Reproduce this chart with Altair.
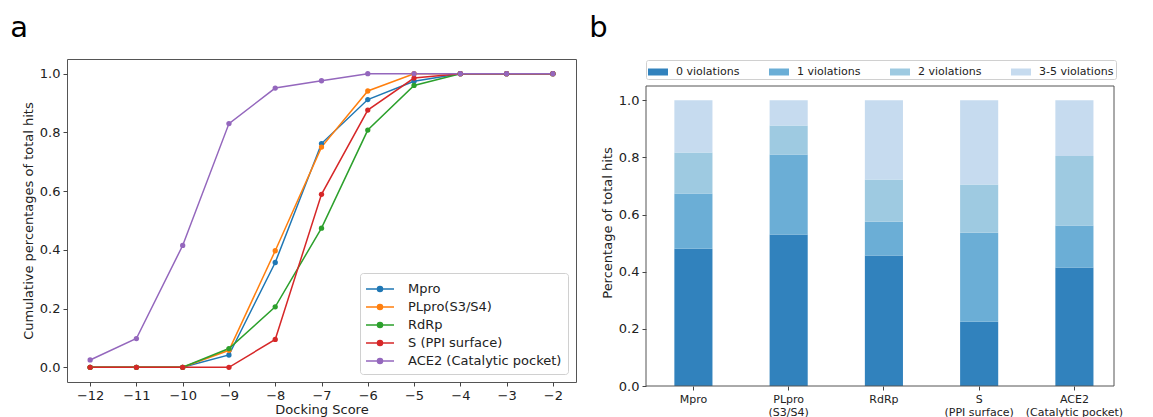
import altair as alt
import pandas as pd

# ---------- panel a data ----------
scores = [-12, -11, -10, -9, -8, -7, -6, -5, -4, -3, -2]
series_names = ["Mpro", "PLpro(S3/S4)", "RdRp", "S (PPI surface)", "ACE2 (Catalytic pocket)"]
mpro = [0, 0, 0, 0.042, 0.357, 0.762, 0.912, 0.974, 1, 1, 1]
plpro = [0, 0, 0, 0.058, 0.397, 0.750, 0.941, 1, 1, 1, 1]
rdrp = [0, 0, 0, 0.064, 0.206, 0.474, 0.808, 0.960, 1, 1, 1]
s_ppi = [0, 0, 0, 0, 0.095, 0.589, 0.876, 0.985, 1, 1, 1]
ace2 = [0.025, 0.098, 0.415, 0.830, 0.951, 0.976, 1, 1, 1, 1, 1]
line_colors = ["#1f77b4", "#ff7f0e", "#2ca02c", "#d62728", "#9467bd"]

# ---------- panel b data ----------
targets = ["Mpro", "PLpro\n(S3/S4)", "RdRp", "S\n(PPI surface)", "ACE2\n(Catalytic pocket)"]
violation_classes = ["0 violations", "1 violations", "2 violations", "3-5 violations"]
v0 = [0.480, 0.530, 0.457, 0.225, 0.415]
v1 = [0.194, 0.280, 0.118, 0.311, 0.147]
v2 = [0.143, 0.102, 0.148, 0.169, 0.243]
v35 = [0.183, 0.088, 0.277, 0.295, 0.195]
bar_colors = ["#3182bd", "#6baed6", "#9ecae1", "#c6dbef"]

FONT = "DejaVu Sans"
TXT = "#222222"
FRAME = "#555555"

rows = []
for name, vals in zip(series_names, [mpro, plpro, rdrp, s_ppi, ace2]):
    for s, v in zip(scores, vals):
        rows.append({"score": s, "value": v, "series": name})
line_df = pd.DataFrame(rows)

brows = []
for t_i, t in enumerate(targets):
    for c_i, (c, vals) in enumerate(zip(violation_classes, [v0, v1, v2, v35])):
        brows.append({"target": t, "cls": c, "k": c_i, "value": vals[t_i]})
bar_df = pd.DataFrame(brows)

# legend glyph: short line with a dot in the middle (matplotlib style)
line_symbol = ("M-1.11,0H2.0M0.164,0A0.28,0.28 0 1,0 0.724,0"
               "A0.28,0.28 0 1,0 0.164,0Z")

color_a = alt.Color(
    "series:N",
    scale=alt.Scale(domain=series_names, range=line_colors),
    legend=alt.Legend(
        title=None, orient="bottom-right", offset=8,
        symbolType=line_symbol, symbolSize=324, symbolStrokeWidth=1.5,
        labelFontSize=13, labelFont=FONT, labelColor=TXT,
        strokeColor="#d0d0d0", fillColor="white", padding=6, cornerRadius=3,
        rowPadding=1, labelOffset=22,
    ),
)

xa = alt.X("score:Q", title="Docking Score",
           scale=alt.Scale(domain=[-12.5, -1.5], nice=False, zero=False),
           axis=alt.Axis(values=scores, format="d", titlePadding=1))
ya = alt.Y("value:Q", title="Cumulative percentages of total hits",
           scale=alt.Scale(domain=[-0.05, 1.05], nice=False, zero=False),
           axis=alt.Axis(values=[0, 0.2, 0.4, 0.6, 0.8, 1.0], format=".1f"))

title_kw = dict(anchor="start", fontSize=29, fontWeight="normal", font=FONT,
                color="black", offset=16, frame="bounds", dx=-12)

panel_a = alt.Chart(line_df).mark_line(
    strokeWidth=1.5,
    point=alt.OverlayMarkDef(size=28, filled=True, opacity=1),
).encode(x=xa, y=ya, color=color_a).properties(
    width=509, height=323,
    title=alt.TitleParams("a", **title_kw),
)

color_b = alt.Color(
    "cls:N",
    scale=alt.Scale(domain=violation_classes, range=bar_colors),
    legend=alt.Legend(
        title=None, orient="none", legendX=0, legendY=1, direction="horizontal",
        columns=4, gridAlign="all", columnPadding=18,
        symbolType="M-1,-0.35H1V0.35H-1Z", symbolSize=400, symbolStrokeWidth=0,
        labelFontSize=11, labelFont=FONT, labelColor=TXT,
        strokeColor="#d0d0d0", fillColor="white", padding=2, cornerRadius=2,
        labelOffset=8,
    ),
)

# y scale extended above 1.05 to leave room for the legend strip above the frame
yb_scale = alt.Scale(domain=[0, 1.1445], nice=False)

bars = alt.Chart(bar_df).mark_bar().encode(
    x=alt.X("target:N", title=None, sort=targets,
            scale=alt.Scale(paddingInner=0.6, paddingOuter=0.2567, align=0.58),
            axis=alt.Axis(labelAngle=0, labelFontSize=11,
                          labelExpr="split(datum.label, '\\n')")),
    y=alt.Y("value:Q", title="Percentage of total hits", stack="zero",
            scale=yb_scale,
            axis=alt.Axis(values=[0, 0.2, 0.4, 0.6, 0.8, 1.0], format=".1f")),
    color=color_b,
    order=alt.Order("k:Q", sort="ascending"),
)

frame_b = alt.Chart(pd.DataFrame({"lo": [0.0], "hi": [1.05]})).mark_rect(
    fill=None, stroke=FRAME, strokeWidth=1
).encode(
    x=alt.value(0), x2=alt.value(468),
    y=alt.Y("lo:Q", scale=yb_scale), y2="hi:Q",
)

panel_b = alt.layer(bars, frame_b).properties(
    width=468, height=327,
    view=alt.ViewBackground(stroke=None),
    title=alt.TitleParams("b", **title_kw),
)

chart = alt.hconcat(panel_a, panel_b, spacing=12).resolve_scale(
    color="independent"
).properties(
    padding={"left": 1, "top": 5, "right": 5, "bottom": 0}
).configure(background="white").configure_view(
    stroke=FRAME, strokeWidth=1
).configure_axis(
    grid=False, domain=False, tickColor="#444444", tickSize=4,
    labelFont=FONT, labelFontSize=13, labelColor=TXT, labelPadding=3,
    titleFont=FONT, titleFontSize=13, titleFontWeight="normal", titleColor=TXT, titlePadding=4,
)

chart.save("out.html", embed_options={"renderer": "svg", "actions": False})
